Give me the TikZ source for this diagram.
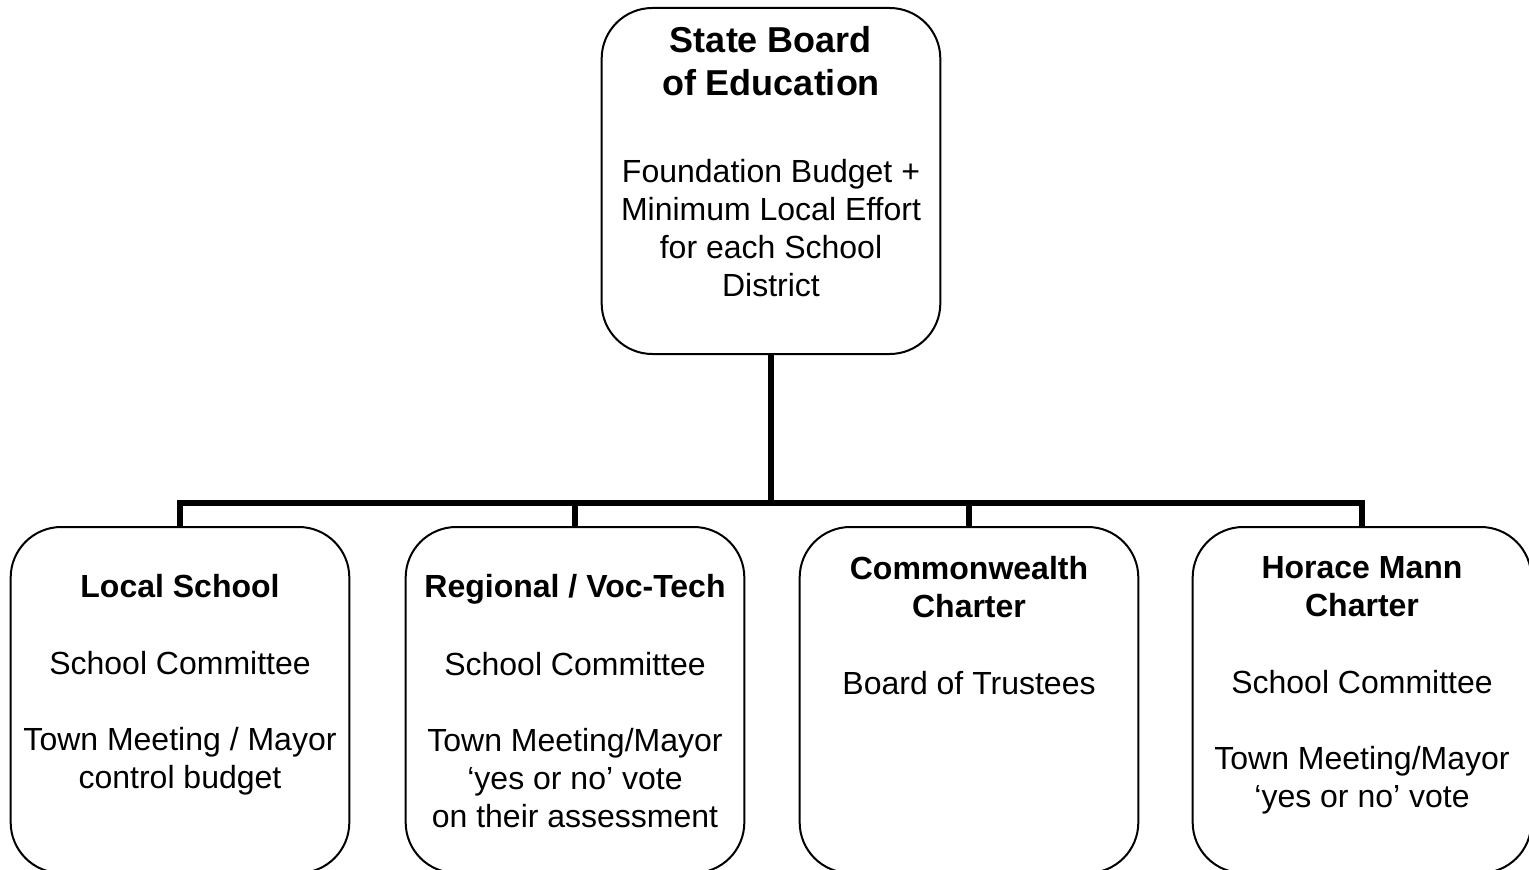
\documentclass[tikz,border=0pt]{standalone}
\usepackage{fontspec}
\setmainfont{Liberation Sans}
\usetikzlibrary{positioning}

\tikzset{
  unit/.style={rectangle, draw, line width=1.5pt, rounded corners=38pt,
    minimum width=254pt, minimum height=259.5pt},
  title/.style={font=\fontsize{24}{29}\selectfont\bfseries, align=center, inner sep=0pt},
  body/.style={font=\fontsize{24}{28.5}\selectfont, align=center, inner sep=0pt},
  link/.style={line width=4.2pt}
}

\begin{document}
\begin{tikzpicture}[x=0.75pt, y=-0.75pt]
\clip (0,0) rectangle (1529,870);

% state level
\node[unit] (board) at (771,181) {};
\node[title, font=\fontsize{27}{32}\selectfont\bfseries] (boardtitle) at (771,61)
  {State Board\\of Education};
\node[body] (boardtext) at (771,228.5)
  {Foundation Budget +\\Minimum Local Effort\\for each School\\District};

% district level
\foreach \name/\x in {local/180, regional/575, common/969, horace/1362}
  \node[unit] (\name) at (\x,700) {};

\node[title] (localtitle) at (180,586) {Local School};
\node[body] (localtext) at (180,723.5)
  {School Committee\\[28.5pt]Town Meeting / Mayor\\control budget};

\node[title] (regionaltitle) at (575,589) {Regional / Voc-Tech};
\node[body] (regionaltext) at (575,740)
  {School Committee\\[28.5pt]Town Meeting/Mayor\\‘yes or no’ vote\\on their assessment};

\node[title] (commontitle) at (969,587) {Commonwealth\\Charter};
\node[body] (commontext) at (969,683) {Board of Trustees};

\node[title] (horacetitle) at (1362,586.5) {Horace Mann\\Charter};
\node[body] (horacetext) at (1362,742.5)
  {School Committee\\[28.5pt]Town Meeting/Mayor\\‘yes or no’ vote};

% connectors
\coordinate (split) at (771,503);
\draw[link] (board.south) -- (split);
\draw[link] (local.north) |- (split) -| (horace.north);
\draw[link] (regional.north) -- (regional.north |- split);
\draw[link] (common.north) -- (common.north |- split);

\end{tikzpicture}
\end{document}
